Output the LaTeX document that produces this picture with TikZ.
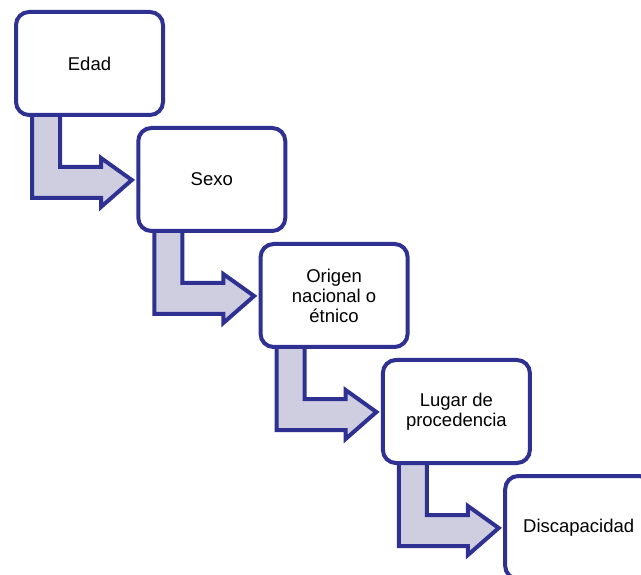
\documentclass[tikz,border=0pt]{standalone}
\usepackage{fontspec}
\setmainfont{Liberation Sans}
\usetikzlibrary{backgrounds,calc}
\definecolor{navy}{RGB}{46,49,146}
\definecolor{lav}{RGB}{206,206,224}
\tikzset{
  stepbox/.style={draw=navy, line width=4pt, fill=white, rounded corners=13pt,
    minimum width=147pt, minimum height=103pt, inner sep=0pt, align=center,
    font=\fontsize{18.5}{20}\selectfont},
  flowarrow/.style={draw=navy, fill=lav, line width=4pt, line join=miter}
}
\begin{document}
\begin{tikzpicture}[x=1pt,y=-1pt]
\clip (0,0) rectangle (641,575);
\node[stepbox] (b1) at (89.5,63.5) {Edad};
\node[stepbox] (b2) at (211.8,179.5) {Sexo};
\node[stepbox] (b3) at (334.1,295.5) {Origen\\nacional o\\étnico};
\node[stepbox] (b4) at (456.4,411.5) {Lugar de\\procedencia};
\node[stepbox] (b5) at (578.7,527.5) {Discapacidad};
\begin{scope}[on background layer]
\foreach \i/\j in {1/2,2/3,3/4,4/5}{
  \draw[flowarrow]
    ([shift={(-57.5,-8)}]b\i.south) --
    ([shift={(-57.5,81)}]b\i.south) --
    ([shift={(11.5,81)}]b\i.south) --
    ([shift={(11.5,90)}]b\i.south) --
    ([shift={(-4.5,0.5)}]b\j.west) --
    ([shift={(11.5,41)}]b\i.south) --
    ([shift={(11.5,50)}]b\i.south) --
    ([shift={(-29.5,50)}]b\i.south) --
    ([shift={(-29.5,-8)}]b\i.south) -- cycle;
}
\end{scope}
\end{tikzpicture}
\end{document}
